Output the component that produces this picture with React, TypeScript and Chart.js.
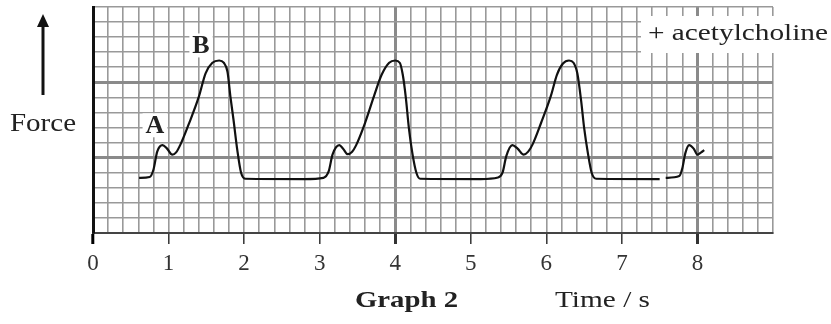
import React, { useEffect, useRef } from "react";
import { Chart, registerables } from "chart.js";

Chart.register(...registerables);

// Time (s) of each traced point
const times: number[] = [
  0.61, 0.75, 0.80, 0.85, 0.92, 0.98, 1.05, 1.10, 1.16, 1.27, 1.40, 1.49, 1.58, 1.67, 1.73, 1.78, 1.82, 1.86, 1.91, 1.96, 2.02, 2.80,
  3.05, 3.12, 3.17, 3.26, 3.31, 3.37, 3.43, 3.48, 3.60, 3.72, 3.82, 3.92, 4.00, 4.06, 4.10, 4.14, 4.18, 4.23, 4.28, 4.33, 5.13,
  5.36, 5.42, 5.47, 5.55, 5.62, 5.70, 5.76, 5.82, 5.93, 6.06, 6.14, 6.22, 6.30, 6.36, 6.41, 6.46, 6.50, 6.55, 6.60, 6.66, 7.50,
  7.54, 7.58, 7.76, 7.80, 7.84, 7.89, 7.95, 8.00, 8.05, 8.09,
];
// Force (grid squares) at each time; null = break in the trace
const force: (number | null)[] = [
  3.66, 3.72, 4.2, 5.4, 5.83, 5.6, 5.2, 5.35, 5.9, 7.26, 9.03, 10.6, 11.3, 11.45, 11.3, 10.7, 9.0, 7.5, 5.5, 4.0, 3.6, 3.58,
  3.66, 4.1, 5.2, 5.83, 5.6, 5.23, 5.4, 5.8, 7.3, 9.1, 10.5, 11.3, 11.45, 11.3, 10.5, 9.0, 7.0, 5.2, 4.0, 3.6, 3.58,
  3.68, 4.0, 5.1, 5.83, 5.6, 5.2, 5.4, 5.9, 7.3, 9.1, 10.5, 11.25, 11.45, 11.3, 10.6, 8.8, 7.0, 5.3, 4.0, 3.6, 3.58,
  null, 3.66, 3.78, 4.3, 5.3, 5.83, 5.6, 5.2, 5.35, 5.5,
];

const xTickLabels: string[] = ["0", "1", "2", "3", "4", "5", "6", "7", "8"];
const xMin = 0;
const xMax = 9;
const yMin = 0;
const yMax = 15;
const majorX: number[] = [4, 8];
const majorY: number[] = [5, 10];

const SERIF = "'Liberation Serif', 'Times New Roman', serif";

const isInt = (v: number) => Math.abs(v - Math.round(v)) < 1e-6;
const isIn = (v: number, arr: number[]) => arr.some((a) => Math.abs(a - v) < 1e-6);

// draw text stretched horizontally to fill [x0, x1]
const fitText = (ctx: CanvasRenderingContext2D, t: string, font: string, x0: number, x1: number, yMid: number) => {
  ctx.save();
  ctx.font = font;
  ctx.textAlign = "left";
  ctx.textBaseline = "middle";
  const w = ctx.measureText(t).width;
  const sx = (x1 - x0) / w;
  ctx.translate(x0, yMid);
  ctx.scale(sx, 1);
  ctx.fillText(t, 0, 0);
  ctx.restore();
};

const decorPlugin = {
  id: "decor",
  afterDraw(chart: any) {
    const ctx = chart.ctx as CanvasRenderingContext2D;
    const xs = chart.scales.x;
    const ys = chart.scales.y;
    ctx.save();

    // Point labels A and B
    const drawLabel = (t: string, xv: number, yv: number) => {
      const px = xs.getPixelForValue(xv);
      const py = ys.getPixelForValue(yv);
      ctx.font = `bold 26px ${SERIF}`;
      const w = ctx.measureText(t).width;
      ctx.fillStyle = "#fff";
      ctx.fillRect(px - w / 2 - 3, py - 12, w + 6, 24);
      ctx.fillStyle = "#222";
      ctx.textAlign = "center";
      ctx.textBaseline = "middle";
      ctx.fillText(t, px, py + 1);
    };
    drawLabel("A", 0.82, 7.15);
    drawLabel("B", 1.43, 12.45);

    // acetylcholine box
    ctx.fillStyle = "#fff";
    ctx.fillRect(641, 16, 190, 37);
    ctx.fillStyle = "#222";
    fitText(ctx, "+ acetylcholine", `24px ${SERIF}`, 648, 828, 34);

    // Force label and arrow
    fitText(ctx, "Force", `26px ${SERIF}`, 10, 76, 124);
    ctx.strokeStyle = "#111";
    ctx.lineWidth = 3;
    ctx.beginPath();
    ctx.moveTo(43, 95);
    ctx.lineTo(43, 24);
    ctx.stroke();
    ctx.fillStyle = "#111";
    ctx.beginPath();
    ctx.moveTo(43, 14);
    ctx.lineTo(37, 27);
    ctx.lineTo(49, 27);
    ctx.closePath();
    ctx.fill();

    // Caption and axis title
    ctx.fillStyle = "#222";
    fitText(ctx, "Graph 2", `bold 23px ${SERIF}`, 355, 458, 301);
    fitText(ctx, "Time / s", `23px ${SERIF}`, 555, 650, 301);

    ctx.restore();
  },
};

export default function App() {
  const ref = useRef<HTMLCanvasElement>(null);

  useEffect(() => {
    if (!ref.current) return;
    const data = times.map((t, i) => ({ x: t, y: force[i] }));
    const chart = new Chart(ref.current, {
      type: "line",
      data: {
        datasets: [
          {
            data: data as any,
            borderColor: "#111",
            borderWidth: 2.2,
            pointRadius: 0,
            fill: false,
            spanGaps: false,
            cubicInterpolationMode: "monotone",
          },
        ],
      },
      options: {
        animation: false,
        responsive: false,
        events: [],
        layout: { padding: { top: 7, right: 58, left: 0, bottom: 0 } },
        plugins: { legend: { display: false }, tooltip: { enabled: false } },
        scales: {
          x: {
            type: "linear",
            min: xMin,
            max: xMax,
            afterFit: (s: any) => {
              s.height = 91;
            },
            ticks: {
              stepSize: 0.2,
              autoSkip: false,
              maxRotation: 0,
              padding: 6,
              color: "#333",
              font: { family: SERIF, size: 23 },
              callback: (v: any) => {
                const n = Number(v);
                if (!isInt(n)) return "";
                const i = Math.round(n);
                return i < xTickLabels.length ? xTickLabels[i] : "";
              },
            },
            grid: {
              color: (c: any) => (isIn(c.tick?.value ?? -1, majorX) ? "#8a8a8a" : "#999"),
              lineWidth: (c: any) => (isIn(c.tick?.value ?? -1, majorX) ? 3 : 1.6),
              tickLength: 11,
              tickColor: (c: any) => {
                const v = c.tick?.value ?? -1;
                if (Math.abs(v) < 1e-6) return "#000";
                return isInt(v) && v < 8.5 ? "#333" : "rgba(0,0,0,0)";
              },
              tickWidth: (c: any) => {
                const v = c.tick?.value ?? -1;
                if (Math.abs(v) < 1e-6) return 3;
                return isIn(v, majorX) ? 3 : 1.5;
              },
            },
            border: { display: true, color: "#444", width: 2 },
          },
          y: {
            type: "linear",
            min: yMin,
            max: yMax,
            afterFit: (s: any) => {
              s.width = 93;
            },
            ticks: { stepSize: 1, display: false },
            grid: {
              drawTicks: false,
              color: (c: any) => (isIn(c.tick?.value ?? -1, majorY) ? "#8a8a8a" : "#999"),
              lineWidth: (c: any) => (isIn(c.tick?.value ?? -1, majorY) ? 3 : 1.6),
            },
            border: { display: true, color: "#111", width: 3 },
          },
        },
      },
      plugins: [decorPlugin],
    });
    return () => chart.destroy();
  }, []);

  return (
    <div style={{ position: "absolute", left: 0, top: 0, width: 831, height: 324, background: "#fff" }}>
      <canvas ref={ref} width={831} height={324} style={{ display: "block" }} />
    </div>
  );
}
